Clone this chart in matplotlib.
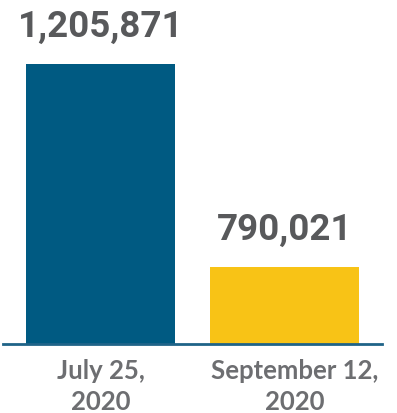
import matplotlib.pyplot as plt
from matplotlib.transforms import ScaledTranslation

dates = ["July 25,\n2020", "September 12,\n2020"]
counts = [1205871, 790021]
colors = ["#005a82", "#f8c316"]

fig = plt.figure(figsize=(3.97, 4.13), dpi=100)
ax = fig.add_axes([3/397, (413-344)/413, 379/397, (344-64)/413])

x = list(range(len(counts)))
ax.bar(x, counts, width=0.81, color=colors)
ax.set_xlim(-0.53, 1.53)
ax.set_ylim(632300, max(counts))

for xi, c in zip(x, counts):
    ax.annotate(f"{c:,}", (xi, c), xytext=(0, 27), textcoords="offset pixels",
                ha="center", va="baseline", fontsize=26.5, fontweight="bold",
                family="Roboto", color="#58595b", annotation_clip=False)

ax.set_xticks(x)
ax.set_xticklabels(dates, fontsize=18.5, fontweight="bold", family="Lato",
                   color="#6d6e71", linespacing=1.35)
ax.tick_params(axis="x", length=0, pad=11)
ax.set_yticks([])
for s in ["top", "left", "right"]:
    ax.spines[s].set_visible(False)
ax.spines["bottom"].set_color("#1f6388")
ax.spines["bottom"].set_linewidth(2)

lbl = ax.get_xticklabels()[1]
lbl.set_transform(lbl.get_transform() + ScaledTranslation(0.1, 0, fig.dpi_scale_trans))

fig.savefig("out.png", dpi=100)
